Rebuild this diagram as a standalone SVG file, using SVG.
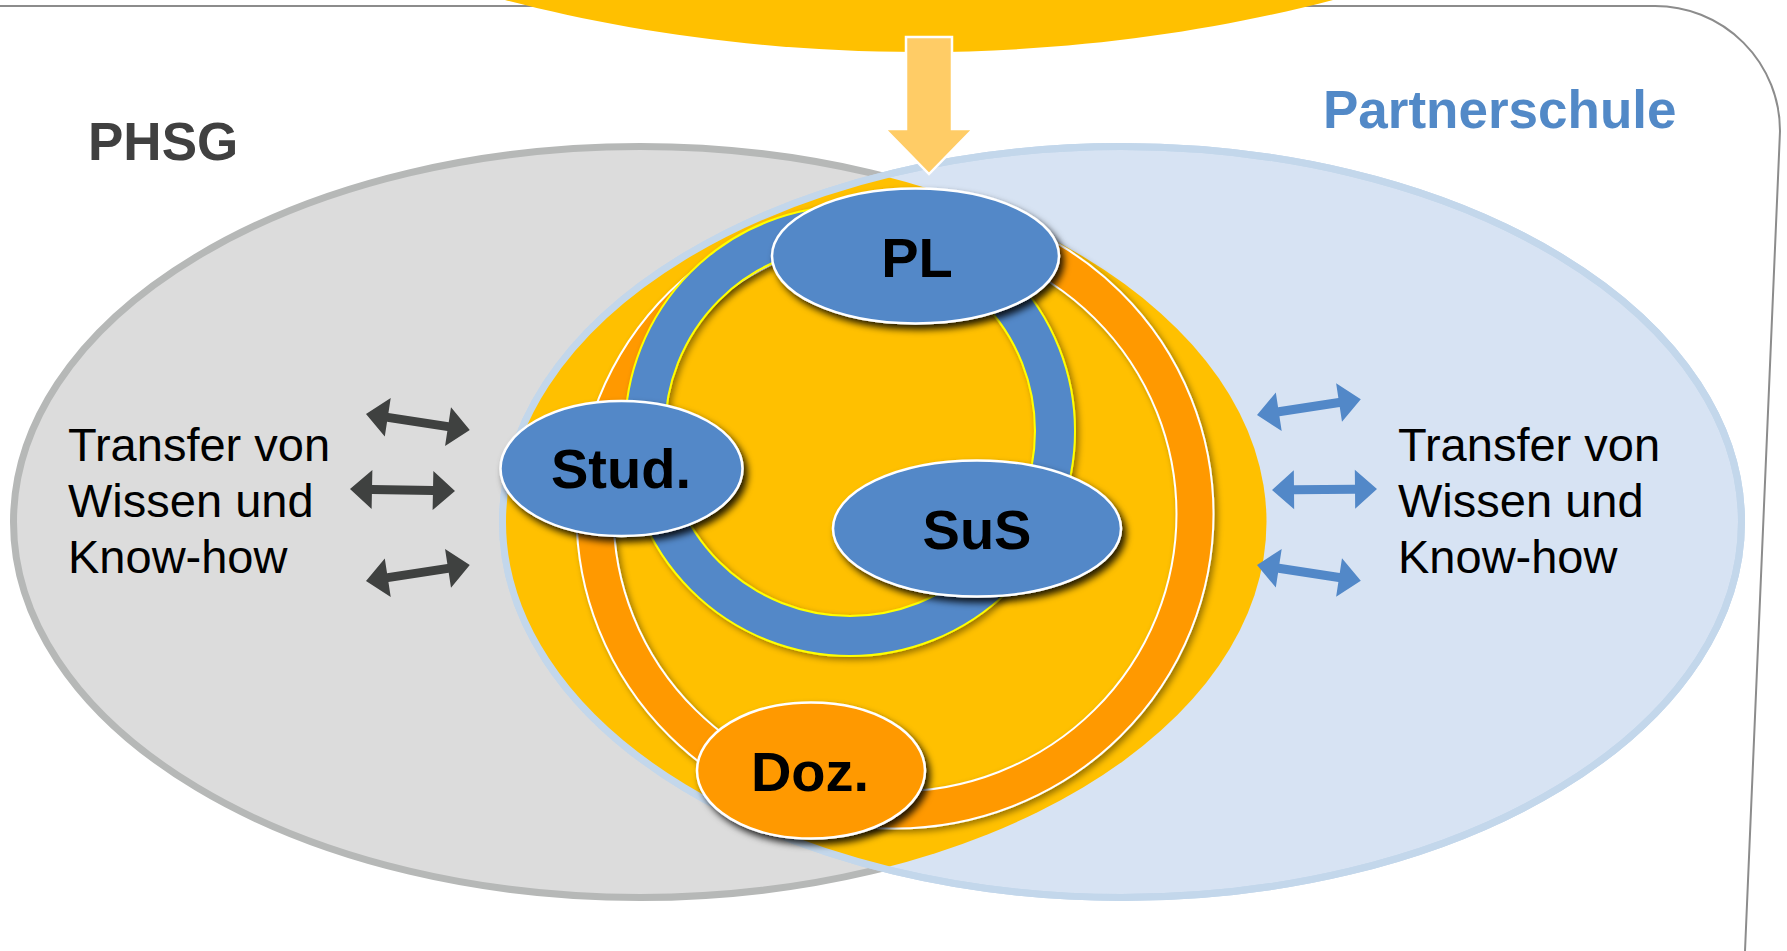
<svg xmlns="http://www.w3.org/2000/svg" width="1787" height="951" viewBox="0 0 1787 951">
<style>
.lbl{font-family:"Liberation Sans",Arial,sans-serif;}
.title{font-size:53px;font-weight:bold;}
.transfer{font-size:47px;fill:#000;}
.node-text{font-size:56px;font-weight:bold;fill:#000;text-anchor:middle;}
.node-blue{fill:#5288C8;stroke:#fff;stroke-width:2.5;}
.node-orange{fill:#FF9900;stroke:#fff;stroke-width:2.5;}
.dark-arrow{fill:#3F4140;}
.blue-arrow{fill:#5288C8;}
</style>
<defs>
<filter id="nodeShadow" x="-20%" y="-25%" width="150%" height="170%">
<feDropShadow dx="4" dy="5" stdDeviation="3.5" flood-color="#000" flood-opacity="0.85"/>
</filter>
<filter id="ringShadow" x="-10%" y="-10%" width="125%" height="125%">
<feDropShadow dx="3" dy="3" stdDeviation="3" flood-color="#000" flood-opacity="0.4"/>
</filter>
<clipPath id="clipBlue"><ellipse cx="1122" cy="522" rx="619.5" ry="375.5"/></clipPath>
<polygon id="dblArrow" points="0,0 22,-19.5 22,-4.5 83,-4.5 83,-19.5 105,0 83,19.5 83,4.5 22,4.5 22,19.5"/>
</defs>
<rect width="1787" height="951" fill="#fff"/>
<path id="frame" d="M0,6 L1655,6 A125,125 0 0 1 1780,131 L1745,951" fill="none" stroke="#8C8C8C" stroke-width="2"/>
<g id="source">
<path d="M505,0 C620,30 760,52 919,52 C1078,52 1218,30 1333,0 L1333,-5 L505,-5 Z" fill="#FFC000"/>
</g>
<g id="region-phsg">
<ellipse cx="640" cy="522" rx="626.5" ry="375.5" fill="#DCDCDC" stroke="#B6B8B7" stroke-width="7"/>
<text class="lbl title" x="88" y="160" fill="#404040">PHSG</text>
<text class="lbl transfer" x="68" y="461">Transfer von</text>
<text class="lbl transfer" x="68" y="517">Wissen und</text>
<text class="lbl transfer" x="68" y="573">Know-how</text>
</g>
<g id="region-partnerschule">
<ellipse cx="1122" cy="522" rx="619.5" ry="375.5" fill="#D7E3F3" stroke="#C3D7EB" stroke-width="7"/>
<text class="lbl title" x="1323" y="128" fill="#5289C7">Partnerschule</text>
<text class="lbl transfer" x="1398" y="461">Transfer von</text>
<text class="lbl transfer" x="1398" y="517">Wissen und</text>
<text class="lbl transfer" x="1398" y="573">Know-how</text>
</g>
<g id="lens">
<ellipse cx="640" cy="522" rx="626.5" ry="375.5" fill="#FFC000" clip-path="url(#clipBlue)"/>
<ellipse cx="1122" cy="522" rx="619.5" ry="375.5" fill="none" stroke="#C3D7EB" stroke-width="7"/>
</g>
<g id="connectors">
<g id="ring-orange" filter="url(#ringShadow)">
<ellipse cx="895" cy="514" rx="300" ry="296" fill="none" stroke="#fff" stroke-width="39"/>
<ellipse cx="895" cy="514" rx="300" ry="296" fill="none" stroke="#FF9900" stroke-width="35"/>
</g>
<g id="ring-blue" filter="url(#ringShadow)">
<circle cx="850" cy="431" r="205" fill="none" stroke="#FFFF00" stroke-width="42"/>
<circle cx="850" cy="431" r="205" fill="none" stroke="#5288C8" stroke-width="38"/>
</g>
<g id="transfer-left" class="dark-arrow">
<use href="#dblArrow" transform="translate(366,414) rotate(8.75)"/>
<use href="#dblArrow" transform="translate(350,489) rotate(1.1)"/>
<use href="#dblArrow" transform="translate(366,581) rotate(-8.75)"/>
</g>
<g id="transfer-right" class="blue-arrow">
<use href="#dblArrow" transform="translate(1257,415) rotate(-8.66)"/>
<use href="#dblArrow" transform="translate(1272,490) rotate(-0.5)"/>
<use href="#dblArrow" transform="translate(1257,565) rotate(8.66)"/>
</g>
<polygon id="input-arrow" points="906,37 952,37 952,129 973,129 929,174 885,129 906,129" fill="#FFCC66" stroke="#fff" stroke-width="2.5"/>
</g>
<g id="node-pl" filter="url(#nodeShadow)">
<ellipse class="node-blue" cx="915.5" cy="256" rx="143.5" ry="67.5"/>
<text class="lbl node-text" x="917" y="277">PL</text>
</g>
<g id="node-stud" filter="url(#nodeShadow)">
<ellipse class="node-blue" cx="621.5" cy="468.5" rx="121" ry="67.5"/>
<text class="lbl node-text" x="621" y="488">Stud.</text>
</g>
<g id="node-sus" filter="url(#nodeShadow)">
<ellipse class="node-blue" cx="977" cy="528.5" rx="144" ry="68"/>
<text class="lbl node-text" x="977" y="549">SuS</text>
</g>
<g id="node-doz" filter="url(#nodeShadow)">
<ellipse class="node-orange" cx="811" cy="770.5" rx="114" ry="68"/>
<text class="lbl node-text" x="810" y="791">Doz.</text>
</g>
</svg>
